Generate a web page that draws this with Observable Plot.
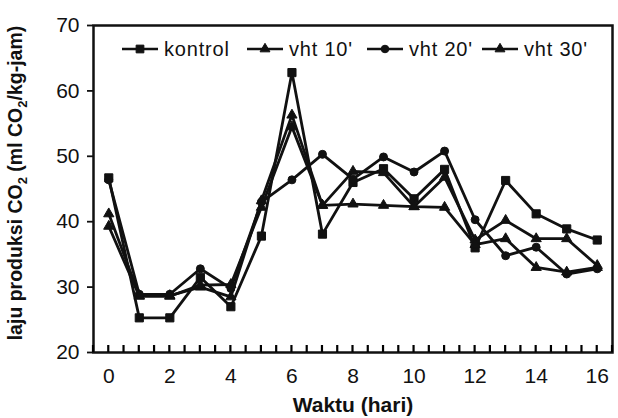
<!DOCTYPE html>
<html>
<head>
<meta charset="utf-8">
<script src="https://cdn.jsdelivr.net/npm/d3@7"></script>
<script src="https://cdn.jsdelivr.net/npm/@observablehq/plot@0.6"></script>
<style>
  html, body { margin: 0; padding: 0; background: #fff; }
  #chart { width: 618px; height: 418px; }
</style>
</head>
<body>
<div id="chart"></div>
<script>
// ---- data ----
const days = [0,1,2,3,4,5,6,7,8,9,10,11,12,13,14,15,16];
const seriesNames = ["kontrol", "vht 10'", "vht 20'", "vht 30'"];
const kontrol = [46.7, 25.3, 25.3, 31.5, 27.0, 37.8, 62.8, 38.1, 46.0, 48.1, 43.5, 48.0, 36.0, 46.3, 41.2, 38.9, 37.2];
const vht10   = [41.2, 28.7, 28.7, 30.0, 28.5, 43.2, 56.3, 42.5, 47.7, 47.5, 42.3, 46.8, 37.2, 40.2, 37.4, 37.4, 33.3];
const vht20   = [46.4, 28.9, 28.9, 32.8, 29.8, 43.0, 46.4, 50.3, 46.5, 49.9, 47.6, 50.8, 40.3, 34.8, 36.1, 32.0, 32.8];
const vht30   = [39.3, 28.6, 28.6, 30.3, 30.4, 42.2, 54.5, 42.5, 42.7, 42.5, 42.3, 42.2, 36.5, 37.4, 33.0, 32.3, 33.0];
const yTicks = [20, 30, 40, 50, 60, 70];
const xTickLabels = [0, 2, 4, 6, 8, 10, 12, 14, 16];
const minorTicks = d3.range(-0.5, 16.51, 0.5);
const symbols = ["square", "triangle", "circle", "triangle"];
const xTitle = "Waktu (hari)";

const allSeries = [kontrol, vht10, vht20, vht30];
const rows = [];
allSeries.forEach((vals, s) => vals.forEach((v, i) => rows.push({series: seriesNames[s], day: days[i], value: v, symbol: symbols[s]})));

const ink = "#111";
const font = "'Liberation Sans', Arial, sans-serif";
const W = 618, H = 418, mT = 25, mB = 66, mL = 93, mR = 6;

const dotMarks = seriesNames.map((name, s) =>
  Plot.dot(rows.filter(d => d.series === name), {
    x: "day", y: "value", symbol: () => symbols[s],
    r: symbols[s] === "square" ? 4.6 : symbols[s] === "circle" ? 4 : 3.8,
    fill: ink, stroke: ink, strokeWidth: 1
  })
);

const chart = Plot.plot({
  width: W, height: H,
  marginLeft: mL, marginRight: mR, marginTop: mT, marginBottom: mB,
  style: { fontFamily: font, fontSize: "20px", color: ink, background: "#fff" },
  x: { domain: [-0.5, 16.5] },
  y: { domain: [20, 70] },
  symbol: { type: "identity" },
  marks: [
    Plot.axisY({ ticks: yTicks, tickSize: 6, tickPadding: 8, strokeWidth: 1.8, label: null, fontSize: 21, letterSpacing: "0.5px" }),
    Plot.axisX({ ticks: xTickLabels, tickSize: 0, tickPadding: 16, label: null, fontSize: 21, letterSpacing: "0.5px" }),
    Plot.line(rows, { x: "day", y: "value", z: "series", stroke: ink, strokeWidth: 2.8, strokeLinejoin: "miter" }),
    ...dotMarks,
    Plot.frame({ stroke: ink, strokeWidth: 2.5 }),
    Plot.text([xTitle], { text: d => d, frameAnchor: "bottom", dy: 53, fontWeight: "bold", fontSize: 21, lineAnchor: "middle", fill: ink, letterSpacing: "1px" })
  ]
});

document.getElementById("chart").appendChild(chart);
const svg = d3.select(chart);

// ---- small inward ticks on the bottom axis, placed with Plot's x and y scales ----
const xs = chart.scale("x"), ys = chart.scale("y");
const yBase = ys.apply(20);
svg.append("g")
  .selectAll("line").data(minorTicks).join("line")
  .attr("x1", d => xs.apply(d)).attr("x2", d => xs.apply(d))
  .attr("y1", yBase).attr("y2", yBase - 7)
  .attr("stroke", "#000").attr("stroke-width", 2.2);

// ---- y-axis title with subscripts ----
const yt = svg.append("text")
  .attr("transform", "translate(22,183) rotate(-90)")
  .attr("text-anchor", "middle")
  .attr("font-family", font)
  .attr("font-weight", "bold")
  .attr("font-size", 19.5)
  .attr("fill", ink);
yt.append("tspan").text("laju produksi CO");
yt.append("tspan").attr("font-size", 13).attr("dy", 5).text("2");
yt.append("tspan").attr("dy", -5).text(" (ml CO");
yt.append("tspan").attr("font-size", 13).attr("dy", 5).text("2");
yt.append("tspan").attr("dy", -5).text("/kg-jam)");

// ---- legend inside the plot ----
const legendX = [122, 247, 367, 482];
const lg = svg.append("g").attr("font-family", font).attr("font-size", 20).attr("fill", ink).attr("text-anchor", "start");
seriesNames.forEach((name, s) => {
  const x0 = legendX[s], y0 = 49;
  lg.append("line").attr("x1", x0).attr("x2", x0 + 36).attr("y1", y0).attr("y2", y0)
    .attr("stroke", ink).attr("stroke-width", 2.6);
  const sym = s === 0 ? d3.symbolSquare : s === 2 ? d3.symbolCircle : d3.symbolTriangle;
  const size = s === 0 ? 60 : s === 2 ? 45 : 42;
  lg.append("path").attr("d", d3.symbol(sym, size)()).attr("transform", `translate(${x0 + 18},${y0})`)
    .attr("fill", ink).attr("stroke", ink);
  lg.append("text").attr("x", x0 + 42).attr("y", y0).attr("dy", "0.35em").attr("text-anchor", "start").attr("letter-spacing", "0.8px").text(name);
});
</script>
</body>
</html>
